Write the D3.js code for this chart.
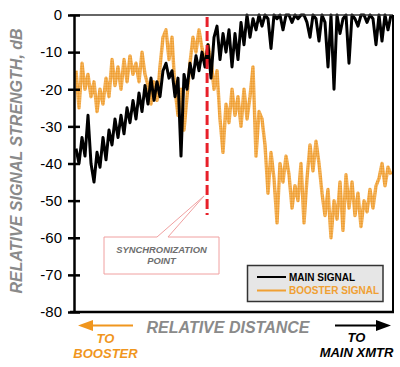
<!DOCTYPE html>
<html>
<head>
<meta charset="utf-8">
<script src="https://cdnjs.cloudflare.com/ajax/libs/d3/7.8.5/d3.min.js"></script>
<style>
  body { margin: 0; background: #fff; }
  text { font-family: "Liberation Sans", Arial, sans-serif; }
</style>
</head>
<body>
<div id="chart"></div>
<script>
// signal strength in dB, sampled evenly along relative distance
var mainSignal = [
  -36, -40, -33, -38, -27, -40, -45, -37, -41, -33,
  -39, -31, -35, -28, -33, -27, -32, -25, -29, -23,
  -28, -21, -26, -19, -24, -17, -23, -18, -22, -15,
  -13, -17, -15, -22, -17, -38, -16, -20, -13, -17,
  -11, -15, -10, -14, -8, -17, -6, -3, -12, -5,
  -10, -4, -14, -5, -12, -2, -8, 0, -6, -1,
  -4, 0, -3, 0, -1, -9, 0, -1, 0, -4,
  0, 0, -2, 0, -1, 0, 0, -2, -6, 0,
  -1, -7, 0, -2, -14, 0, -20, 0, -5, -1,
  0, -13, 0, -1, -3, 0, 0, -2, 0, -1,
  -8, 0, -7, 0, -4, 0
];
var boosterSignal = [
  -15, -25, -13, -20, -16, -22, -18, -26, -20, -24,
  -17, -22, -12, -19, -14, -20, -12, -18, -11, -16,
  -13, -18, -10, -16, -19, -24, -18, -23, -14, -6,
  -4, -12, -6, -20, -27, -20, -31, -22, -13, -6,
  -10, -4, -9, -13, -8, -12, -20, -15, -28, -37,
  -24, -29, -20, -27, -22, -30, -20, -28, -22, -14,
  -38, -26, -28, -35, -48, -37, -44, -56, -40, -45,
  -38, -43, -52, -46, -50, -40, -56, -44, -35, -42,
  -34, -40, -48, -54, -47, -60, -50, -55, -45, -58,
  -43, -52, -45, -54, -48, -57, -50, -53, -47, -52,
  -46, -44, -40, -46, -41, -43
];
var yTicks = [0, -10, -20, -30, -40, -50, -60, -70, -80];
var syncPoint = 43.7; // sample index of the synchronization point
var legendItems = ["MAIN SIGNAL", "BOOSTER SIGNAL"];
var legendColors = ["#000", "#f0a033"];

var width = 400, height = 367;
var plotLeft = 74.5, plotRight = 393, plotTop = 15, plotBottom = 312;

var svg = d3.select("#chart")
    .append("svg")
    .attr("width", width)
    .attr("height", height);

// halftone look of the booster trace
var pat = svg.append("defs").append("pattern")
    .attr("id", "dots")
    .attr("patternUnits", "userSpaceOnUse")
    .attr("width", 2.5).attr("height", 2.5);
pat.append("rect").attr("width", 2.5).attr("height", 2.5).attr("fill", "#f6c27a");
pat.append("circle").attr("cx", 1.25).attr("cy", 1.25).attr("r", 1).attr("fill", "#ee9620");

var x = d3.scaleLinear()
    .domain([0, mainSignal.length - 1])
    .range([76, 391]);

var y = d3.scaleLinear()
    .domain([-80, 0])
    .range([plotBottom, plotTop]);

var line = d3.line()
    .x(function(d, i) { return x(i); })
    .y(function(d) { return y(d); });

// booster first so the main signal sits on top
svg.append("path")
    .datum(boosterSignal)
    .attr("fill", "none")
    .attr("stroke", "url(#dots)")
    .attr("stroke-width", 3.4)
    .attr("stroke-linejoin", "round")
    .attr("d", line);

svg.append("path")
    .datum(mainSignal)
    .attr("fill", "none")
    .attr("stroke", legendColors[0])
    .attr("stroke-width", 3)
    .attr("stroke-linejoin", "round")
    .attr("d", line);

// frame
svg.append("line")
    .attr("x1", 70).attr("x2", plotRight).attr("y1", plotTop).attr("y2", plotTop)
    .attr("stroke", "#333").attr("stroke-width", 1.6);
svg.append("line")
    .attr("x1", plotRight).attr("x2", plotRight).attr("y1", plotTop).attr("y2", plotBottom)
    .attr("stroke", "#000").attr("stroke-width", 2);
svg.append("line")
    .attr("x1", plotLeft).attr("x2", plotLeft).attr("y1", plotTop).attr("y2", plotBottom)
    .attr("stroke", "#000").attr("stroke-width", 2.5);
svg.append("line")
    .attr("x1", 70).attr("x2", plotRight + 1).attr("y1", plotBottom).attr("y2", plotBottom)
    .attr("stroke", "#000").attr("stroke-width", 2.5);

// y axis ticks crossing the axis line
var yAxis = svg.append("g")
    .attr("transform", "translate(80,0)")
    .call(d3.axisLeft(y).tickValues(yTicks).tickSize(12).tickPadding(6)
        .tickFormat(function(d) { return d; }));
yAxis.select(".domain").remove();
yAxis.selectAll(".tick line").attr("stroke", "#000").attr("stroke-width", 2.5);
yAxis.selectAll(".tick text")
    .attr("fill", "#000")
    .style("font-size", "15px")
    .style("font-family", "'Liberation Sans', Arial, sans-serif");

// synchronization line
svg.append("line")
    .attr("x1", x(syncPoint)).attr("x2", x(syncPoint))
    .attr("y1", plotTop + 2).attr("y2", 215)
    .attr("stroke", "#e8202a")
    .attr("stroke-width", 3)
    .attr("stroke-dasharray", "10,4");

// callout
svg.append("path")
    .attr("d", "M104,237 L157,237 L204,196 L168,237 L219,237 L219,274 L104,274 Z")
    .attr("fill", "#fff")
    .attr("stroke", "#f0a0a0")
    .attr("stroke-width", 1);
svg.append("text")
    .attr("x", 161.5).attr("y", 253)
    .attr("text-anchor", "middle")
    .attr("fill", "#6e6e6e")
    .style("font-size", "9.4px").style("font-weight", "bold").style("font-style", "italic")
    .text("SYNCHRONIZATION");
svg.append("text")
    .attr("x", 161.5).attr("y", 264)
    .attr("text-anchor", "middle")
    .attr("fill", "#6e6e6e")
    .style("font-size", "9.4px").style("font-weight", "bold").style("font-style", "italic")
    .text("POINT");

// legend
var legend = svg.append("g");
legend.append("rect")
    .attr("x", 247.5).attr("y", 265.5)
    .attr("width", 135.5).attr("height", 36)
    .attr("fill", "#e6e6e6")
    .attr("stroke", "#333")
    .attr("stroke-width", 1.5);
legendItems.forEach(function(name, i) {
    var ly = 277 + i * 13.5;
    legend.append("line")
        .attr("x1", 257).attr("x2", 286)
        .attr("y1", ly).attr("y2", ly)
        .attr("stroke", legendColors[i])
        .attr("stroke-width", 2);
    legend.append("text")
        .attr("x", 289).attr("y", ly + 3.5)
        .attr("fill", legendColors[i])
        .style("font-size", "10px").style("font-weight", "bold")
        .text(name);
});

// axis titles
svg.append("text")
    .attr("transform", "translate(22,161) rotate(-90)")
    .attr("text-anchor", "middle")
    .attr("fill", "#8a8a8a")
    .style("font-size", "16px").style("font-weight", "bold").style("font-style", "italic")
    .text("RELATIVE SIGNAL STRENGTH, dB");

svg.append("text")
    .attr("x", 228).attr("y", 333)
    .attr("text-anchor", "middle")
    .attr("fill", "#8a8a8a")
    .style("font-size", "16px").style("font-weight", "bold").style("font-style", "italic")
    .text("RELATIVE DISTANCE");

// direction arrows
svg.append("line")
    .attr("x1", 133).attr("x2", 90).attr("y1", 325.5).attr("y2", 325.5)
    .attr("stroke", "#f0961e").attr("stroke-width", 2);
svg.append("path")
    .attr("d", "M78,325.5 L93,320 L93,331 Z")
    .attr("fill", "#f0961e");
svg.append("line")
    .attr("x1", 335).attr("x2", 378).attr("y1", 325.5).attr("y2", 325.5)
    .attr("stroke", "#000").attr("stroke-width", 2);
svg.append("path")
    .attr("d", "M391,325.5 L376,320 L376,331 Z")
    .attr("fill", "#000");

[["TO", 343], ["BOOSTER", 358]].forEach(function(t) {
    svg.append("text")
        .attr("x", 105.5).attr("y", t[1])
        .attr("text-anchor", "middle")
        .attr("fill", "#f0961e")
        .style("font-size", "13px").style("font-weight", "bold").style("font-style", "italic")
        .text(t[0]);
});
[["TO", 342], ["MAIN XMTR", 357]].forEach(function(t) {
    svg.append("text")
        .attr("x", 356.5).attr("y", t[1])
        .attr("text-anchor", "middle")
        .attr("fill", "#000")
        .style("font-size", "13px").style("font-weight", "bold").style("font-style", "italic")
        .text(t[0]);
});
</script>
</body>
</html>
